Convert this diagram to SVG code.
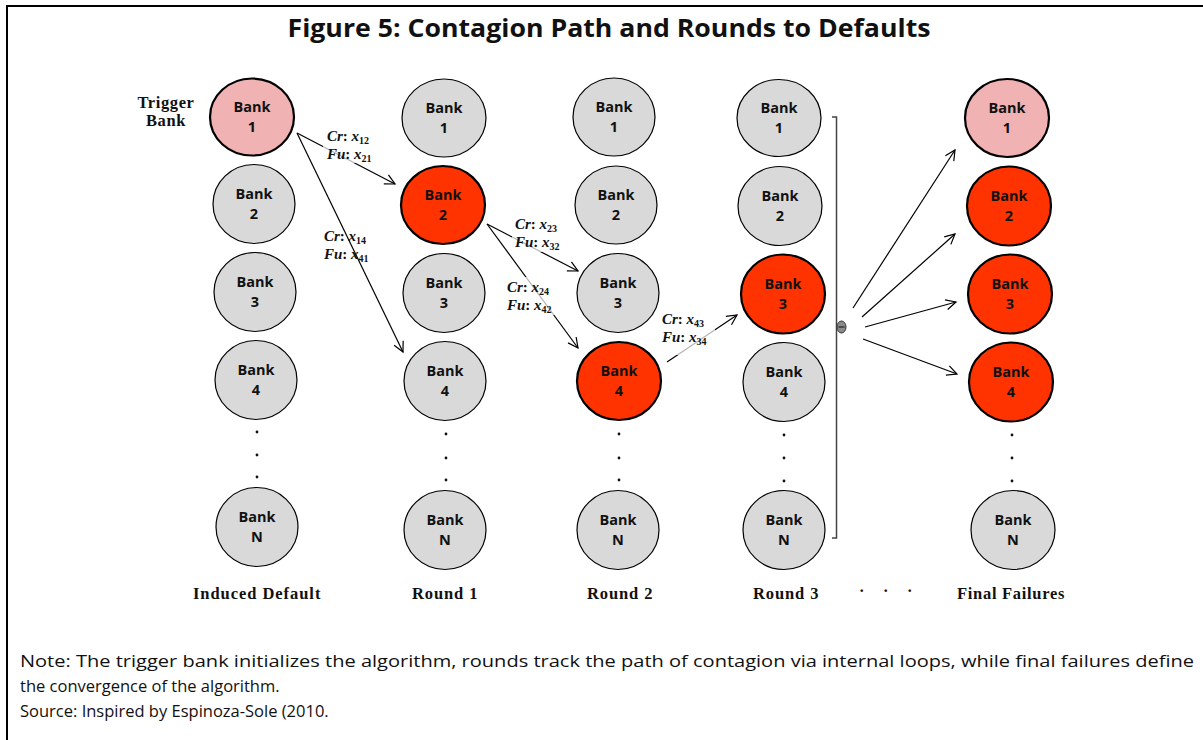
<svg xmlns="http://www.w3.org/2000/svg" width="1203" height="740" viewBox="0 0 1203 740">
<style>
.g{fill:#d9d9d9;stroke:#000;stroke-width:1.2}
.p{fill:#f0b2b2;stroke:#000;stroke-width:2.2}
.r{fill:#ff3300;stroke:#000;stroke-width:2.2}
.bt{font-family:"Open Sans","Liberation Sans",sans-serif;font-weight:bold;font-size:14.5px;text-anchor:middle;fill:#111}
.lab{font-family:"Liberation Serif",serif;font-weight:bold;font-size:16.5px;text-anchor:middle;fill:#111;letter-spacing:0.6px}
.m{font-family:"Liberation Serif","DejaVu Serif",serif;font-weight:bold;font-style:italic;font-size:15px;fill:#111}
.m tspan.s{font-size:10px;font-style:normal}
.cn{stroke:#000;stroke-width:1.2;fill:none;marker-end:url(#ah)}
.lb{fill:#fff;fill-opacity:0.7}
.note{font-family:"Open Sans","Liberation Sans",sans-serif;font-size:16.5px;fill:#111}
.dot{fill:#111}
</style>
<defs>
<marker id="ah" markerWidth="14" markerHeight="14" refX="11" refY="6" orient="auto" markerUnits="userSpaceOnUse">
<path d="M1,1 L11,6 L1,11" fill="none" stroke="#000" stroke-width="1.2"/>
</marker>
</defs>
<rect width="1203" height="740" fill="#fff"/>
<path d="M7,740 V6 H1203" fill="none" stroke="#000" stroke-width="2"/>
<text x="609" y="37" font-family="Open Sans,Liberation Sans,sans-serif" font-weight="bold" font-size="25" text-anchor="middle" textLength="643" lengthAdjust="spacingAndGlyphs" fill="#111">Figure 5: Contagion Path and Rounds to Defaults</text>

<g id="trigger-label">
<text x="166" y="108" class="lab" font-size="15.5" letter-spacing="1">Trigger</text>
<text x="166" y="126" class="lab" font-size="15.5" letter-spacing="1">Bank</text>
</g>

<g id="connectors">
<path class="cn" d="M297,133 L395,184"/>
<path class="cn" d="M297,133 L403,352"/>
<path class="cn" d="M487,224 L578,271"/>
<path class="cn" d="M487,224 L578,348"/>
<path class="cn" d="M667,362 L737,315"/>
<path class="cn" d="M853,308 L955,150"/>
<path class="cn" d="M862,317 L955,234"/>
<path class="cn" d="M865,327 L956,302"/>
<path class="cn" d="M863,339 L957,374"/>
<path d="M832,117 H836.5 V538 H832" fill="none" stroke="#444" stroke-width="1.5"/>
<ellipse cx="841.5" cy="327" rx="4.5" ry="6" fill="#8a8a8a" stroke="#333" stroke-width="1"/>
<path d="M838.5,327 H844.5" stroke="#222" stroke-width="1.2"/>
</g>

<g id="edge-labels">
<rect class="lb" x="323" y="125" width="56" height="38"/>
<text class="m" x="327" y="141">Cr<tspan font-style="normal">: </tspan>x<tspan class="s" dy="3">12</tspan></text>
<text class="m" x="327" y="159">Fu<tspan font-style="normal">: </tspan>x<tspan class="s" dy="3">21</tspan></text>
<text class="m" x="324" y="241">Cr<tspan font-style="normal">: </tspan>x<tspan class="s" dy="3">14</tspan></text>
<text class="m" x="324" y="259">Fu<tspan font-style="normal">: </tspan>x<tspan class="s" dy="3">41</tspan></text>
<rect class="lb" x="512" y="214" width="56" height="38"/>
<text class="m" x="515" y="229">Cr<tspan font-style="normal">: </tspan>x<tspan class="s" dy="3">23</tspan></text>
<text class="m" x="515" y="247">Fu<tspan font-style="normal">: </tspan>x<tspan class="s" dy="3">32</tspan></text>
<rect class="lb" x="504" y="277" width="56" height="38"/>
<text class="m" x="507" y="292">Cr<tspan font-style="normal">: </tspan>x<tspan class="s" dy="3">24</tspan></text>
<text class="m" x="507" y="310">Fu<tspan font-style="normal">: </tspan>x<tspan class="s" dy="3">42</tspan></text>
<rect class="lb" x="659" y="309" width="56" height="46"/>
<text class="m" x="662" y="324">Cr<tspan font-style="normal">: </tspan>x<tspan class="s" dy="3">43</tspan></text>
<text class="m" x="662" y="342">Fu<tspan font-style="normal">: </tspan>x<tspan class="s" dy="3">34</tspan></text>
</g>

<!-- Column 0 -->
<g id="c0-b1"><ellipse class="p" cx="252" cy="117" rx="42" ry="38.5"/><text class="bt" x="252" y="112">Bank</text><text class="bt" x="252" y="132">1</text></g>
<g id="c0-b2"><ellipse class="g" cx="254" cy="204" rx="41" ry="39.5"/><text class="bt" x="254" y="199">Bank</text><text class="bt" x="254" y="219">2</text></g>
<g id="c0-b3"><ellipse class="g" cx="255" cy="292" rx="41" ry="39.5"/><text class="bt" x="255" y="287">Bank</text><text class="bt" x="255" y="307">3</text></g>
<g id="c0-b4"><ellipse class="g" cx="256" cy="380" rx="41" ry="39.5"/><text class="bt" x="256" y="375">Bank</text><text class="bt" x="256" y="395">4</text></g>
<g id="c0-dots"><circle class="dot" cx="257" cy="432" r="1.4"/><circle class="dot" cx="257" cy="455" r="1.4"/><circle class="dot" cx="257" cy="477" r="1.4"/></g>
<g id="c0-bN"><ellipse class="g" cx="257" cy="527" rx="41" ry="39.5"/><text class="bt" x="257" y="522">Bank</text><text class="bt" x="257" y="542">N</text></g>

<!-- Column 1 -->
<g id="c1-b1"><ellipse class="g" cx="444" cy="118" rx="42" ry="39"/><text class="bt" x="444" y="113">Bank</text><text class="bt" x="444" y="133">1</text></g>
<g id="c1-b2"><ellipse class="r" cx="443" cy="205" rx="42" ry="39"/><text class="bt" x="443" y="200">Bank</text><text class="bt" x="443" y="220">2</text></g>
<g id="c1-b3"><ellipse class="g" cx="444" cy="293" rx="41" ry="39.5"/><text class="bt" x="444" y="288">Bank</text><text class="bt" x="444" y="308">3</text></g>
<g id="c1-b4"><ellipse class="g" cx="445" cy="381" rx="41" ry="39.5"/><text class="bt" x="445" y="376">Bank</text><text class="bt" x="445" y="396">4</text></g>
<g id="c1-dots"><circle class="dot" cx="446" cy="434" r="1.4"/><circle class="dot" cx="446" cy="458" r="1.4"/><circle class="dot" cx="446" cy="480" r="1.4"/></g>
<g id="c1-bN"><ellipse class="g" cx="445" cy="530" rx="41" ry="39.5"/><text class="bt" x="445" y="525">Bank</text><text class="bt" x="445" y="545">N</text></g>

<!-- Column 2 -->
<g id="c2-b1"><ellipse class="g" cx="614" cy="117" rx="41" ry="39"/><text class="bt" x="614" y="112">Bank</text><text class="bt" x="614" y="132">1</text></g>
<g id="c2-b2"><ellipse class="g" cx="616" cy="205" rx="41" ry="39"/><text class="bt" x="616" y="200">Bank</text><text class="bt" x="616" y="220">2</text></g>
<g id="c2-b3"><ellipse class="g" cx="618" cy="293" rx="41" ry="39.5"/><text class="bt" x="618" y="288">Bank</text><text class="bt" x="618" y="308">3</text></g>
<g id="c2-b4"><ellipse class="r" cx="619" cy="381" rx="42" ry="39"/><text class="bt" x="619" y="376">Bank</text><text class="bt" x="619" y="396">4</text></g>
<g id="c2-dots"><circle class="dot" cx="619" cy="434" r="1.4"/><circle class="dot" cx="619" cy="458" r="1.4"/><circle class="dot" cx="619" cy="480" r="1.4"/></g>
<g id="c2-bN"><ellipse class="g" cx="618" cy="530" rx="41" ry="39.5"/><text class="bt" x="618" y="525">Bank</text><text class="bt" x="618" y="545">N</text></g>

<!-- Column 3 -->
<g id="c3-b1"><ellipse class="g" cx="779" cy="118" rx="42" ry="38.5"/><text class="bt" x="779" y="113">Bank</text><text class="bt" x="779" y="133">1</text></g>
<g id="c3-b2"><ellipse class="g" cx="780" cy="206" rx="42" ry="39.5"/><text class="bt" x="780" y="201">Bank</text><text class="bt" x="780" y="221">2</text></g>
<g id="c3-b3"><ellipse class="r" cx="783" cy="294" rx="42" ry="39.5"/><text class="bt" x="783" y="289">Bank</text><text class="bt" x="783" y="309">3</text></g>
<g id="c3-b4"><ellipse class="g" cx="784" cy="382" rx="41" ry="39.5"/><text class="bt" x="784" y="377">Bank</text><text class="bt" x="784" y="397">4</text></g>
<g id="c3-dots"><circle class="dot" cx="784" cy="435" r="1.4"/><circle class="dot" cx="784" cy="458" r="1.4"/><circle class="dot" cx="784" cy="481" r="1.4"/></g>
<g id="c3-bN"><ellipse class="g" cx="784" cy="530" rx="41" ry="39.5"/><text class="bt" x="784" y="525">Bank</text><text class="bt" x="784" y="545">N</text></g>

<!-- Final column -->
<g id="f-b1"><ellipse class="p" cx="1007" cy="118" rx="42" ry="39"/><text class="bt" x="1007" y="113">Bank</text><text class="bt" x="1007" y="133">1</text></g>
<g id="f-b2"><ellipse class="r" cx="1009" cy="206" rx="42" ry="39.5"/><text class="bt" x="1009" y="201">Bank</text><text class="bt" x="1009" y="221">2</text></g>
<g id="f-b3"><ellipse class="r" cx="1010" cy="294" rx="42" ry="39.5"/><text class="bt" x="1010" y="289">Bank</text><text class="bt" x="1010" y="309">3</text></g>
<g id="f-b4"><ellipse class="r" cx="1011" cy="382" rx="42" ry="39.5"/><text class="bt" x="1011" y="377">Bank</text><text class="bt" x="1011" y="397">4</text></g>
<g id="f-dots"><circle class="dot" cx="1012" cy="435" r="1.4"/><circle class="dot" cx="1012" cy="458" r="1.4"/><circle class="dot" cx="1012" cy="481" r="1.4"/></g>
<g id="f-bN"><ellipse class="g" cx="1013" cy="530" rx="42" ry="39.5"/><text class="bt" x="1013" y="525">Bank</text><text class="bt" x="1013" y="545">N</text></g>

<g id="column-labels">
<text class="lab" x="257" y="599" textLength="128" lengthAdjust="spacing">Induced Default</text>
<text class="lab" x="445" y="599" textLength="66" lengthAdjust="spacing">Round 1</text>
<text class="lab" x="620" y="599" textLength="66" lengthAdjust="spacing">Round 2</text>
<text class="lab" x="786" y="599" textLength="66" lengthAdjust="spacing">Round 3</text>
<text class="lab" x="862" y="596">·</text>
<text class="lab" x="886" y="596">·</text>
<text class="lab" x="910" y="596">·</text>
<text class="lab" x="1011" y="599" textLength="108" lengthAdjust="spacing">Final Failures</text>
</g>

<g id="note">
<text class="note" x="20" y="667" textLength="1174" lengthAdjust="spacingAndGlyphs">Note: The trigger bank initializes the algorithm, rounds track the path of contagion via internal loops, while final failures define</text>
<text class="note" x="20" y="692">the convergence of the algorithm.</text>
<text class="note" x="20" y="717">Source: Inspired by Espinoza-Sole (2010.</text>
</g>
</svg>
